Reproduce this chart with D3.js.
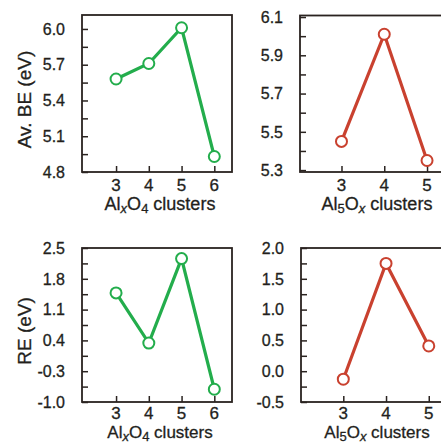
<!DOCTYPE html>
<html>
<head>
<meta charset="utf-8">
<script src="https://cdn.jsdelivr.net/npm/d3@7"></script>
<style>
  body { margin: 0; background: #fff; }
  svg { display: block; font-family: "Liberation Sans", Arial, sans-serif; }
  svg text { stroke: #231f1c; stroke-width: 0.3px; }
</style>
</head>
<body>
<div id="chart"></div>
<script>
// data
const alxO4Sizes = [3, 4, 5, 6];
const al5OxSizes = [3, 4, 5];

const alxO4BE = [5.58, 5.71, 6.01, 4.93];
const al5OxBE = [5.45, 6.01, 5.35];
const alxO4RE = [1.48, 0.34, 2.26, -0.71];
const al5OxRE = [-0.13, 1.75, 0.41];

const beLeftTicks = [4.8, 5.1, 5.4, 5.7, 6.0];
const beRightTicks = [5.3, 5.5, 5.7, 5.9, 6.1];
const reLeftTicks = [-1.0, -0.3, 0.4, 1.1, 1.8, 2.5];
const reRightTicks = [-0.5, 0.0, 0.5, 1.0, 1.5, 2.0];

const green = '#23ad4c';
const red = '#c9412f';
const frameColor = '#2a2320';
const textColor = '#231f1c';

// panel layout
const panels = [
    { xs: alxO4Sizes, ys: alxO4BE, color: green, ticks: beLeftTicks, minor: 0.15,
      frame: { left: 82, right: 232, top: 15, bottom: 172 },
      xDomain: [1.96, 6.54], yDomain: [4.8, 6.117], titleX: 160, tickDy: 19, titleDy: 38, titleSize: 18,
      yTitle: 'Av. BE (eV)', xTitle: ['Al', 'x', 'O', '4', ' clusters'] },
    { xs: al5OxSizes, ys: al5OxBE, color: red, ticks: beRightTicks, minor: 0.1,
      frame: { left: 300, right: 445, top: 15.5, bottom: 172 },
      xDomain: [2.03, 5.42], yDomain: [5.29, 6.108], titleX: 377, tickDy: 19, titleDy: 38, titleSize: 18,
      yTitle: null, xTitle: ['Al', '5', 'O', 'x', ' clusters'] },
    { xs: alxO4Sizes, ys: alxO4RE, color: green, ticks: reLeftTicks, minor: 0.35,
      frame: { left: 82, right: 232, top: 248, bottom: 402 },
      xDomain: [1.96, 6.54], yDomain: [-1.0, 2.5], titleX: 160, tickDy: 17, titleDy: 36, titleSize: 17,
      yTitle: 'RE (eV)', xTitle: ['Al', 'x', 'O', '4', ' clusters'] },
    { xs: al5OxSizes, ys: al5OxRE, color: red, ticks: reRightTicks, minor: 0.25,
      frame: { left: 301, right: 445, top: 248, bottom: 402 },
      xDomain: [2.01, 5.38], yDomain: [-0.5, 2.0], titleX: 377, tickDy: 17, titleDy: 36, titleSize: 17,
      yTitle: null, xTitle: ['Al', '5', 'O', 'x', ' clusters'] }
];

const svg = d3.select('#chart').append('svg')
    .attr('width', 441)
    .attr('height', 443);

panels.forEach(p => draw_panel(p));

function draw_panel(p) {
    const f = p.frame;

    const xScale = d3.scaleLinear().domain(p.xDomain).range([f.left, f.right]);
    const yScale = d3.scaleLinear().domain(p.yDomain).range([f.bottom, f.top]);

    const g = svg.append('g');

    // minor + major y ticks (inward)
    const allTicks = d3.range(p.ticks[0], p.yDomain[1] + 1e-6, p.minor);

    const yAxis = d3.axisRight(yScale)
        .tickValues(allTicks)
        .tickSizeInner(6)
        .tickSizeOuter(0)
        .tickFormat('');

    g.append('g')
        .attr('transform', `translate(${f.left},0)`)
        .call(yAxis)
        .call(a => a.select('.domain').remove())
        .call(a => a.selectAll('line').attr('stroke', frameColor).attr('stroke-width', 1.5));

    // y tick labels
    g.append('g')
        .selectAll('text')
        .data(p.ticks)
        .join('text')
        .attr('x', f.left - 17)
        .attr('y', d => yScale(d))
        .attr('dy', '0.36em')
        .attr('text-anchor', 'end')
        .attr('font-size', 16)
        .attr('fill', textColor)
        .text(d => d3.format('.1f')(d).replace('−', '-'));

    // x ticks (inward) and labels
    const xAxis = d3.axisTop(xScale)
        .tickValues(p.xs)
        .tickSizeInner(6)
        .tickSizeOuter(0)
        .tickFormat('');

    g.append('g')
        .attr('transform', `translate(0,${f.bottom})`)
        .call(xAxis)
        .call(a => a.select('.domain').remove())
        .call(a => a.selectAll('line').attr('stroke', frameColor).attr('stroke-width', 1.5));

    g.append('g')
        .selectAll('text')
        .data(p.xs)
        .join('text')
        .attr('x', d => xScale(d))
        .attr('y', f.bottom + p.tickDy)
        .attr('text-anchor', 'middle')
        .attr('font-size', 17)
        .attr('fill', textColor)
        .text(d => d);

    // frame
    g.append('rect')
        .attr('x', f.left)
        .attr('y', f.top)
        .attr('width', f.right - f.left)
        .attr('height', f.bottom - f.top)
        .attr('fill', 'none')
        .attr('stroke', frameColor)
        .attr('stroke-width', 1.8);

    // line
    const pts = p.xs.map((x, i) => [x, p.ys[i]]);
    g.append('path')
        .datum(pts)
        .attr('fill', 'none')
        .attr('stroke', p.color)
        .attr('stroke-width', 3.2)
        .attr('d', d3.line().x(d => xScale(d[0])).y(d => yScale(d[1])));

    g.selectAll('circle')
        .data(pts)
        .join('circle')
        .attr('cx', d => xScale(d[0]))
        .attr('cy', d => yScale(d[1]))
        .attr('r', 5.5)
        .attr('fill', '#fff')
        .attr('stroke', p.color)
        .attr('stroke-width', 2);

    // x title with subscripts
    const title = g.append('text')
        .attr('x', p.titleX)
        .attr('y', f.bottom + p.titleDy)
        .attr('text-anchor', 'middle')
        .attr('font-size', p.titleSize)
        .attr('fill', textColor);

    const parts = p.xTitle;
    title.append('tspan').text(parts[0]);
    title.append('tspan').attr('dy', 3).attr('font-size', 13)
        .attr('font-style', parts[1] === 'x' ? 'italic' : 'normal').text(parts[1]);
    title.append('tspan').attr('dy', -3).text(parts[2]);
    title.append('tspan').attr('dy', 3).attr('font-size', 13)
        .attr('font-style', parts[3] === 'x' ? 'italic' : 'normal').text(parts[3]);
    title.append('tspan').attr('dy', -3).text(parts[4]);

    // y title
    if (p.yTitle) {
        const ty = (f.top + f.bottom) / 2 + 6;
        g.append('text')
            .attr('transform', `translate(31,${ty}) rotate(-90)`)
            .attr('text-anchor', 'middle')
            .attr('font-size', 19)
            .attr('fill', textColor)
            .text(p.yTitle);
    }
}
</script>
</body>
</html>
